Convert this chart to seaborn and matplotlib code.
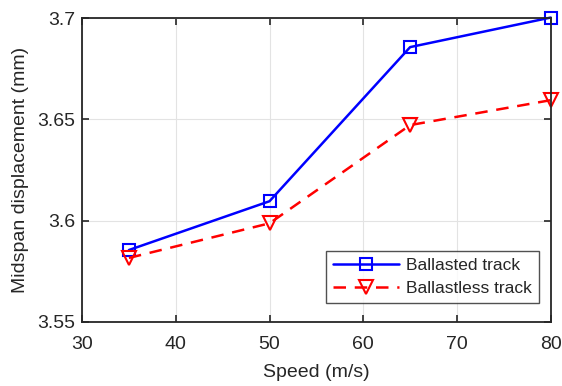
import matplotlib
matplotlib.use("Agg")
import matplotlib.pyplot as plt
import seaborn as sns
import pandas as pd

speeds = [35, 50, 65, 80]
ballasted = [3.5855, 3.6096, 3.6857, 3.7003]
ballastless = [3.5816, 3.5987, 3.6472, 3.6595]
series_names = ["Ballasted track", "Ballastless track"]
x_ticks = [30, 40, 50, 60, 70, 80]
y_ticks = [3.55, 3.6, 3.65, 3.7]

sns.set_theme(style="white")
plt.rcParams['font.family'] = ['Liberation Sans', 'DejaVu Sans']

df = pd.DataFrame({
    "Speed": speeds * 2,
    "Disp": ballasted + ballastless,
    "Track": [series_names[0]] * 4 + [series_names[1]] * 4,
})

fig = plt.figure(figsize=(5.62, 3.86), dpi=100)
ax = fig.add_axes([0.146, 0.166, 0.834, 0.787])

sns.lineplot(data=df[df.Track == series_names[0]], x="Speed", y="Disp", ax=ax,
             color="#0000ff", linestyle="-", marker="s", markersize=8.5,
             markerfacecolor="none", markeredgecolor="#0000ff", markeredgewidth=1.5,
             linewidth=1.8, label=series_names[0], clip_on=False)
sns.lineplot(data=df[df.Track == series_names[1]], x="Speed", y="Disp", ax=ax,
             color="#ff0000", linestyle=(0, (5, 3.5)), marker="v", markersize=10.5,
             markerfacecolor="none", markeredgecolor="#ff0000", markeredgewidth=1.5,
             linewidth=1.8, label=series_names[1], clip_on=False)

ax.set_xlim(30, 80)
ax.set_ylim(3.55, 3.7)
ax.set_xticks(x_ticks)
ax.set_yticks(y_ticks)
ax.set_yticklabels(["3.55", "3.6", "3.65", "3.7"])
ax.grid(True, color="#e3e3e3", linewidth=0.8)
ax.set_axisbelow(True)
for s in ax.spines.values():
    s.set_visible(True)
    s.set_color("#262626")
    s.set_linewidth(1.3)
ax.tick_params(direction="in", length=5, width=1.2, color="#262626",
               top=True, right=True, bottom=True, left=True,
               labelsize=14, labelcolor="#262626", pad=5)
ax.tick_params(axis="x", pad=10)
ax.set_xlabel("Speed (m/s)", fontsize=14, color="#262626", labelpad=8)
ax.set_ylabel("Midspan displacement (mm)", fontsize=14, color="#262626", labelpad=6)

leg = ax.legend(loc="lower right", bbox_to_anchor=(0.985, 0.045), fontsize=12.5,
                frameon=True, fancybox=False, edgecolor="#262626",
                handlelength=3.8, borderpad=0.4, labelspacing=0.45, handletextpad=0.4,
                borderaxespad=0.3)
leg.get_frame().set_linewidth(1.0)

fig.savefig("out.png", dpi=100)
